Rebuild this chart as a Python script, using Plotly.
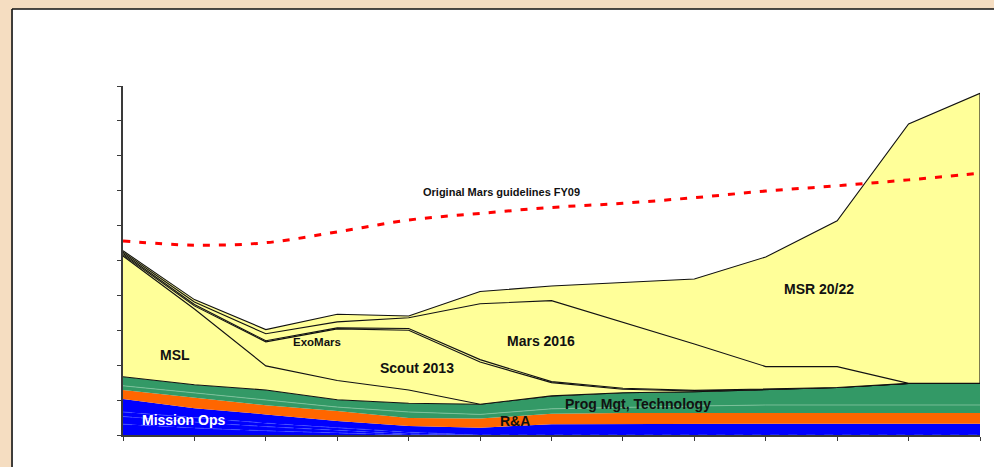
import numpy as np
import plotly.graph_objects as go

# ---- data (values in budget units) ----
periods = list(range(13))

mission_ops_a = [0.31, 0.20, 0.12, 0.05, 0.00, 0, 0, 0, 0, 0, 0, 0, 0]
mission_ops_b = [0.22, 0.17, 0.12, 0.08, 0.03, 0, 0, 0, 0, 0, 0, 0, 0]
mission_ops_c = [0.13, 0.12, 0.10, 0.08, 0.05, 0, 0, 0, 0, 0, 0, 0, 0]
mission_ops_d = [0.37, 0.28, 0.25, 0.19, 0.18, 0.21, 0.31, 0.32, 0.32, 0.32, 0.32, 0.32, 0.32]
r_and_a = [0.26, 0.30, 0.26, 0.29, 0.23, 0.26, 0.30, 0.31, 0.31, 0.31, 0.31, 0.31, 0.31]
technology = [0.12, 0.13, 0.14, 0.11, 0.17, 0.12, 0.14, 0.17, 0.20, 0.23, 0.23, 0.23, 0.23]
prog_mgt = [0.26, 0.24, 0.30, 0.21, 0.25, 0.29, 0.37, 0.41, 0.41, 0.45, 0.50, 0.62, 0.62]
msl = [3.46, 2.17, 0.69, 0.55, 0.38, 0, 0, 0, 0, 0, 0, 0, 0]
scout_2013 = [0.03, 0.09, 0.69, 1.48, 1.71, 1.21, 0.38, 0.10, 0.02, 0, 0, 0, 0]
exomars = [0.04, 0.04, 0.03, 0.03, 0.05, 0.07, 0.03, 0.03, 0.02, 0, 0, 0, 0]
mars_2016 = [0.04, 0.07, 0.20, 0.17, 0.31, 1.60, 2.32, 1.90, 1.33, 0.65, 0.60, 0, 0]
msr_2022 = [0.04, 0.07, 0.12, 0.22, 0.05, 0.35, 0.42, 1.13, 1.86, 3.14, 4.18, 7.43, 8.31]
guideline_fy09 = [5.56, 5.44, 5.51, 5.82, 6.16, 6.35, 6.52, 6.64, 6.80, 6.99, 7.14, 7.31, 7.50]

BLUE = "#0000FF"
ORANGE = "#FF6600"
GREEN = "#339966"
YELLOW = "#FFFF99"
BEIGE = "#F5DDC1"
FONT = "Liberation Sans, Arial, sans-serif"

fig = go.Figure()

def layer(vals, fill, line_color, line_width, dash="solid"):
    fig.add_trace(go.Scatter(
        x=periods, y=vals, stackgroup="one", mode="lines",
        fillcolor=fill, line=dict(color=line_color, width=line_width, dash=dash),
        hoverinfo="skip", showlegend=False))

layer(mission_ops_a, BLUE, "#4a5cff", 0.7, "dash")
layer(mission_ops_b, BLUE, "#4a5cff", 0.7, "dash")
layer(mission_ops_c, BLUE, "#4a5cff", 0.7, "dash")
layer(mission_ops_d, BLUE, BLUE, 0)
layer(r_and_a, ORANGE, ORANGE, 0)
layer(technology, GREEN, "#7fc29c", 0.9)
layer(prog_mgt, GREEN, "#111111", 1.1)
layer(msl, YELLOW, "#111111", 1.1)
layer(scout_2013, YELLOW, "#111111", 1.1)
layer(exomars, YELLOW, "#111111", 1.1)
layer(mars_2016, YELLOW, "#111111", 1.1)
layer(msr_2022, YELLOW, "#111111", 1.1)

# right-hand closing edge of the yellow area
base = np.sum([mission_ops_a, mission_ops_b, mission_ops_c, mission_ops_d,
               r_and_a, technology, prog_mgt], axis=0)
top = base + np.sum([msl, scout_2013, exomars, mars_2016, msr_2022], axis=0)
last = periods[-1]
fig.add_trace(go.Scatter(x=[last, last], y=[base[-1], top[-1]], mode="lines",
                         line=dict(color="#111111", width=1.1),
                         hoverinfo="skip", showlegend=False))

fig.add_trace(go.Scatter(
    x=periods, y=guideline_fy09, mode="lines",
    line=dict(color="#FF0000", width=3, dash="7px,9px", shape="spline", smoothing=1),
    hoverinfo="skip", showlegend=False))

labels = [
    ("Original Mars guidelines FY09", 5.293, 6.954, 11, "#111111"),
    ("MSL", 0.728, 2.292, 14, "#111111"),
    ("ExoMars", 2.723, 2.673, 11.5, "#111111"),
    ("Scout 2013", 4.119, 1.911, 14, "#111111"),
    ("Mars 2016", 5.846, 2.693, 14, "#111111"),
    ("MSR 20/22", 9.741, 4.175, 14, "#111111"),
    ("Prog Mgt, Technology", 7.215, 0.880, 14, "#111111"),
    ("R&A", 5.489, 0.401, 14, "#111111"),
    ("Mission Ops", 0.853, 0.430, 14, "#FFFFFF"),
]
for text, x, y, size, color in labels:
    fig.add_annotation(x=x, y=y, xref="x", yref="y", text="<b>" + text + "</b>",
                       showarrow=False, xanchor="center", yanchor="middle",
                       font=dict(family=FONT, size=size, color=color))

# slide background strips (left and top) and the panel's black border
PX_L, PX_T = -0.1435, 1.2464   # paper coords of the figure's left / top edges
PX_R, PX_B = 1.0163, -0.0917   # paper coords of the figure's right / bottom edges
EDGE_X, EDGE_Y = -0.1295, 1.2206
fig.add_shape(type="rect", xref="paper", yref="paper", x0=PX_L - 0.02, x1=EDGE_X,
              y0=PX_B - 0.05, y1=PX_T + 0.05, fillcolor=BEIGE, line_width=0, layer="below")
fig.add_shape(type="rect", xref="paper", yref="paper", x0=PX_L - 0.02, x1=PX_R + 0.05,
              y0=EDGE_Y, y1=PX_T + 0.05, fillcolor=BEIGE, line_width=0, layer="below")
fig.add_shape(type="line", xref="paper", yref="paper", x0=EDGE_X, x1=EDGE_X,
              y0=PX_B - 0.05, y1=EDGE_Y, line=dict(color="#111111", width=1.6), layer="below")
fig.add_shape(type="line", xref="paper", yref="paper", x0=EDGE_X, x1=PX_R + 0.05,
              y0=EDGE_Y, y1=EDGE_Y, line=dict(color="#111111", width=1.6), layer="below")

fig.update_xaxes(range=[0, 12], dtick=1, tick0=0, showgrid=False, zeroline=False,
                 showline=True, linecolor="#3a3a3a", linewidth=1.5,
                 ticks="outside", ticklen=4, tickcolor="#3a3a3a", showticklabels=False)
fig.update_yaxes(range=[0, 10], dtick=1, tick0=0, showgrid=False, zeroline=False,
                 showline=True, linecolor="#3a3a3a", linewidth=1.5,
                 ticks="outside", ticklen=4, tickcolor="#3a3a3a", showticklabels=False)

fig.update_layout(
    width=994, height=467,
    margin=dict(l=123, r=14, t=86, b=32, autoexpand=False),
    paper_bgcolor="white", plot_bgcolor="rgba(0,0,0,0)",
    font=dict(family=FONT), showlegend=False,
)

fig.write_html("out.html")
